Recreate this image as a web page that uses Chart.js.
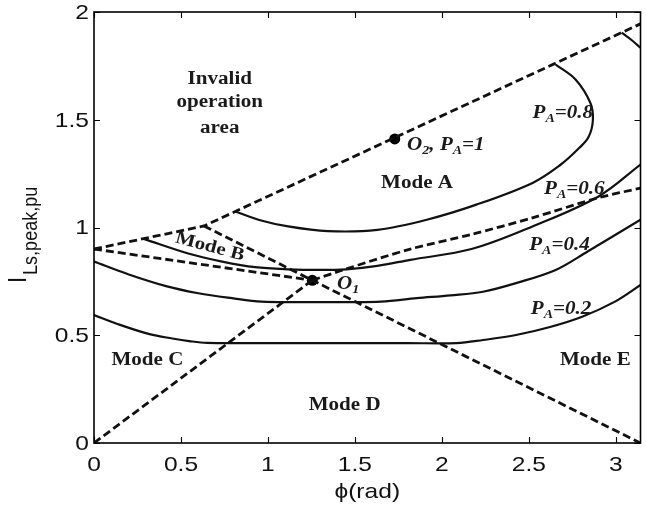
<!DOCTYPE html>
<html lang="en">
  <head>
    <meta charset="UTF-8" />
    <title>Operating modes vs phi</title>
    <script src="https://cdn.jsdelivr.net/npm/chart.js"></script>
    <style>
      html, body { margin: 0; padding: 0; background: #fff; }
    </style>
  </head>
  <body>
    <canvas id="modeChart" width="646" height="511"></canvas>
    <script>
      const xTicks = [0, 0.5, 1, 1.5, 2, 2.5, 3];
      const xTickLabels = ["0", "0.5", "1", "1.5", "2", "2.5", "3"];
      const yTicks = [0, 0.5, 1, 1.5, 2];
      const yTickLabels = ["0", "0.5", "1", "1.5", "2"];

      // dashed mode boundaries
      const topBoundX = [0, 0.632, Math.PI];
      const topBoundY = [0.9, 1.007, 1.945];
      const riseX = [0, 1.255];
      const riseY = [0, 0.755];
      const fallX = [0.632, 1.255, Math.PI];
      const fallY = [1.007, 0.755, 0];
      const modeBLowX = [0, 1.255];
      const modeBLowY = [0.9, 0.755];
      const modeARightX = [1.255, 1.439, 1.818, 2.17, 2.52, 2.9, Math.PI];
      const modeARightY = [0.755, 0.805, 0.9, 0.968, 1.045, 1.138, 1.183];

      // constant power curves
      const p08X = [0.813, 0.95, 1.116, 1.344, 1.629, 1.913, 2.198, 2.521, 2.68, 2.78, 2.843, 2.868, 2.853, 2.768, 2.654];
      const p08Y = [1.074, 1.035, 1.005, 0.983, 0.989, 1.036, 1.106, 1.207, 1.29, 1.362, 1.42, 1.5, 1.579, 1.687, 1.756];
      const p06X = [0.29, 0.547, 0.737, 0.926, 1.116, 1.3, 1.45, 1.629, 1.818, 2.17, 2.521, 2.9, Math.PI];
      const p06Y = [0.946, 0.878, 0.842, 0.816, 0.806, 0.803, 0.806, 0.822, 0.85, 0.9, 1.005, 1.144, 1.292];
      const p06TopX = [3.033, 3.09, Math.PI];
      const p06TopY = [1.904, 1.87, 1.834];
      const p04X = [0, 0.2, 0.414, 0.6, 0.793, 0.964, 1.2, 1.45, 1.65, 1.856, 2.05, 2.236, 2.426, 2.654, 2.84, Math.PI];
      const p04Y = [0.842, 0.782, 0.728, 0.695, 0.672, 0.656, 0.654, 0.654, 0.656, 0.672, 0.685, 0.702, 0.742, 0.803, 0.89, 1.036];
      const p02X = [0, 0.15, 0.319, 0.45, 0.547, 0.65, 1.2, 1.8, 2.084, 2.236, 2.426, 2.616, 2.806, 2.995, Math.PI];
      const p02Y = [0.594, 0.548, 0.505, 0.485, 0.473, 0.465, 0.4637, 0.4637, 0.4637, 0.478, 0.501, 0.537, 0.586, 0.656, 0.733];

      // O1 and O2
      const dotX = [1.255, 1.729];
      const dotY = [0.755, 1.411];

      const SANS = '"Liberation Sans", Arial, sans-serif';
      const SERIF = '"Liberation Serif", "Times New Roman", serif';
      const SX = 1.17; // text is drawn a bit wide

      function pts(xs, ys) {
        return xs.map((x, i) => ({ x: x, y: ys[i] }));
      }
      function dashed(xs, ys, tension) {
        return {
          data: pts(xs, ys), showLine: true, pointRadius: 0,
          borderColor: "#111", borderWidth: 2.8, borderDash: [8, 4],
          tension: tension || 0, fill: false,
        };
      }
      function solid(xs, ys) {
        return {
          data: pts(xs, ys), showLine: true, pointRadius: 0,
          borderColor: "#111", borderWidth: 2.2, tension: 0.35, fill: false,
        };
      }

      // text labels: [parts, x, y, align, italic] ; parts are [text, isSub]
      const notes = [
        [[["Invalid"]], 0.723, 1.664, "center", false],
        [[["operation"]], 0.723, 1.557, "center", false],
        [[["area"]], 0.723, 1.44, "center", false],
        [[["Mode A"]], 1.857, 1.185, "center", false],
        [[["Mode C"]], 0.307, 0.361, "center", false],
        [[["Mode D"]], 1.441, 0.152, "center", false],
        [[["Mode E"]], 2.882, 0.361, "center", false],
        [[["P"], ["A", true], ["=0.8"]], 2.521, 1.506, "left", true],
        [[["O"], ["2", true], [", P"], ["A", true], ["=1"]], 1.8, 1.361, "left", true],
        [[["P"], ["A", true], ["=0.6"]], 2.587, 1.156, "left", true],
        [[["P"], ["A", true], ["=0.4"]], 2.502, 0.895, "left", true],
        [[["P"], ["A", true], ["=0.2"]], 2.511, 0.599, "left", true],
        [[["O"], ["1", true]], 1.397, 0.715, "left", true],
      ];

      function drawParts(c, parts, x, y, align, italic) {
        const big = (italic ? "italic " : "") + "bold 18px " + SERIF;
        const small = (italic ? "italic " : "") + "bold 12px " + SERIF;
        let w = 0;
        parts.forEach((p) => {
          c.font = p[1] ? small : big;
          w += c.measureText(p[0]).width;
        });
        c.save();
        c.translate(x, y);
        c.scale(SX, 1);
        let cx = align === "center" ? -w / 2 : 0;
        c.textAlign = "left";
        c.textBaseline = "alphabetic";
        parts.forEach((p) => {
          c.font = p[1] ? small : big;
          c.fillText(p[0], cx, p[1] ? 4 : 0);
          cx += c.measureText(p[0]).width;
        });
        c.restore();
      }

      const frame = {
        id: "frame",
        afterDraw(chart) {
          const c = chart.ctx;
          const a = chart.chartArea;
          const xs = chart.scales.x;
          const ys = chart.scales.y;
          c.save();
          c.strokeStyle = "#000";
          c.fillStyle = "#111";
          c.lineWidth = 1.6;
          c.strokeRect(a.left, a.top, a.right - a.left, a.bottom - a.top);

          // inward ticks
          c.beginPath();
          xs.ticks.forEach((t) => {
            const px = Math.round(xs.getPixelForValue(t.value)) + 0.5;
            c.moveTo(px, a.bottom); c.lineTo(px, a.bottom - 6);
            c.moveTo(px, a.top); c.lineTo(px, a.top + 6);
          });
          ys.ticks.forEach((t) => {
            const py = Math.round(ys.getPixelForValue(t.value)) + 0.5;
            c.moveTo(a.left, py); c.lineTo(a.left + 6, py);
            c.moveTo(a.right, py); c.lineTo(a.right - 6, py);
          });
          c.lineWidth = 1.1;
          c.stroke();

          // tick labels
          c.font = "21px " + SANS;
          c.textBaseline = "alphabetic";
          xs.ticks.forEach((t, i) => {
            c.save();
            c.translate(xs.getPixelForValue(t.value), 471);
            c.scale(SX, 1);
            c.textAlign = "center";
            c.fillText(xTickLabels[i], 0, 0);
            c.restore();
          });
          c.textBaseline = "middle";
          ys.ticks.forEach((t, i) => {
            c.save();
            c.translate(a.left - 5, ys.getPixelForValue(t.value) + 1);
            c.scale(SX, 1);
            c.textAlign = "right";
            c.fillText(yTickLabels[i], 0, 0);
            c.restore();
          });

          // axis titles
          c.save();
          c.translate((a.left + a.right) / 2, 498);
          c.scale(SX, 1);
          c.textAlign = "center";
          c.textBaseline = "alphabetic";
          c.font = "21px " + SANS;
          c.fillText("\u03d5(rad)", 0, 0);
          c.restore();

          c.save();
          c.translate(26, 283);
          c.scale(SX, 1);
          c.rotate(-Math.PI / 2);
          c.textAlign = "left";
          c.textBaseline = "alphabetic";
          c.font = "22px " + SANS;
          c.fillText("I", 0, 0);
          const iw = c.measureText("I").width;
          c.font = "18px " + SANS;
          c.fillText("Ls,peak,pu", iw + 2, 9.5);
          c.restore();

          // region and curve labels
          c.fillStyle = "#1a1a1a";
          notes.forEach((n) => {
            drawParts(c, n[0], xs.getPixelForValue(n[1]), ys.getPixelForValue(n[2]), n[3], n[4]);
          });

          c.save();
          c.translate(xs.getPixelForValue(0.666), ys.getPixelForValue(0.91));
          c.rotate((15 * Math.PI) / 180);
          c.scale(SX, 1);
          c.font = "bold 18px " + SERIF;
          c.textAlign = "center";
          c.textBaseline = "middle";
          c.fillText("Mode B", 0, 0);
          c.restore();

          c.restore();
        },
      };

      const ctx = document.getElementById("modeChart").getContext("2d");
      const modeChart = new Chart(ctx, {
        type: "scatter",
        data: {
          datasets: [
            dashed(topBoundX, topBoundY),
            dashed(riseX, riseY),
            dashed(fallX, fallY),
            dashed(modeBLowX, modeBLowY),
            dashed(modeARightX, modeARightY, 0.3),
            solid(p08X, p08Y),
            solid(p06X, p06Y),
            solid(p06TopX, p06TopY),
            solid(p04X, p04Y),
            solid(p02X, p02Y),
            {
              data: pts(dotX, dotY), showLine: false,
              pointRadius: 5.5, pointBackgroundColor: "#000", pointBorderWidth: 0,
            },
          ],
        },
        options: {
          responsive: false,
          animation: false,
          devicePixelRatio: 1,
          layout: { padding: { top: 12, right: 0, bottom: 0, left: 0 } },
          plugins: { legend: { display: false }, tooltip: { enabled: false } },
          scales: {
            x: {
              type: "linear", min: 0, max: Math.PI,
              afterBuildTicks: (s) => { s.ticks = xTicks.map((v) => ({ value: v })); },
              afterFit: (s) => { s.height = 68; },
              ticks: { display: false },
              grid: { display: false },
              border: { display: false },
            },
            y: {
              type: "linear", min: 0, max: 2,
              afterBuildTicks: (s) => { s.ticks = yTicks.map((v) => ({ value: v })); },
              afterFit: (s) => { s.width = 94; },
              ticks: { display: false },
              grid: { display: false },
              border: { display: false },
            },
          },
        },
        plugins: [frame],
      });
    </script>
  </body>
</html>
